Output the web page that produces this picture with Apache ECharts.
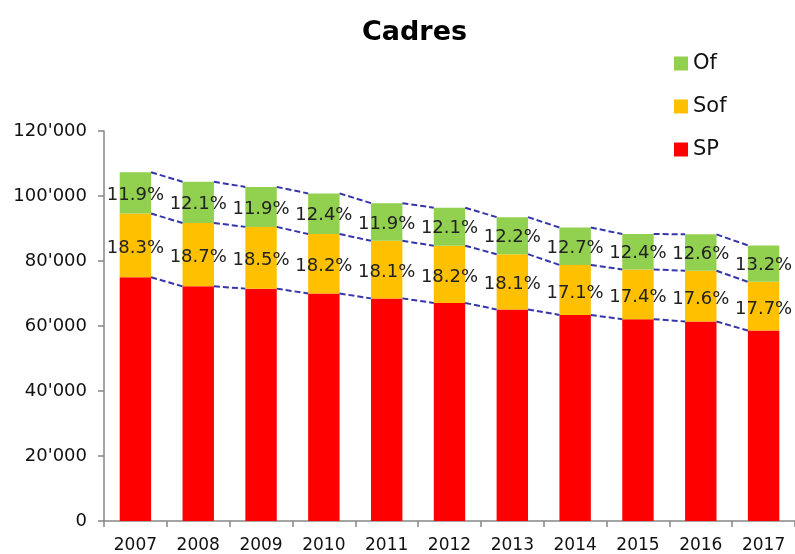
<!DOCTYPE html>
<html>
<head>
<meta charset="utf-8">
<script src="https://cdn.jsdelivr.net/npm/echarts@6/dist/echarts.min.js"></script>
<style>html,body{margin:0;padding:0;background:#fff;}#c{width:795px;height:554px;}</style>
</head>
<body>
<div id="c"></div>
<script>
const years = ['2007','2008','2009','2010','2011','2012','2013','2014','2015','2016','2017'];
const spValues  = [75000, 72200, 71500, 70000, 68500, 67100, 65100, 63400, 62100, 61400, 58600];
const sofValues = [19600, 19500, 19000, 18300, 17700, 17600, 17000, 15400, 15300, 15600, 15000];
const ofValues  = [12700, 12700, 12300, 12500, 11600, 11700, 11400, 11500, 10900, 11200, 11200];
const ofPct  = ['11.9%','12.1%','11.9%','12.4%','11.9%','12.1%','12.2%','12.7%','12.4%','12.6%','13.2%'];
const sofPct = ['18.3%','18.7%','18.5%','18.2%','18.1%','18.2%','18.1%','17.1%','17.4%','17.6%','17.7%'];
const yTicks = {min: 0, max: 120000, interval: 20000};

const FONT = 'DejaVu Sans';
const sofTop = spValues.map((v, i) => v + sofValues[i]);
const totTop = sofTop.map((v, i) => v + ofValues[i]);
const connData = [];
for (let i = 0; i < years.length - 1; i++) {
  connData.push([i, spValues[i], sofTop[i], totTop[i], spValues[i+1], sofTop[i+1], totTop[i+1]]);
}
function fmt(v){ return String(v).replace(/\B(?=(\d{3})+(?!\d))/g, "'"); }

const chart = echarts.init(document.getElementById('c'), null, {renderer: 'canvas'});
chart.setOption({
  animation: false,
  backgroundColor: '#fff',
  title: {
    text: 'Cadres', left: 357, top: 14,
    textStyle: {fontFamily: FONT, fontWeight: 'bold', fontSize: 27, color: '#000'}
  },
  legend: {
    orient: 'vertical', left: 669, top: 48,
    data: ['Of', 'Sof', 'SP'],
    itemWidth: 14, itemHeight: 14, itemGap: 22,
    icon: 'rect',
    textStyle: {fontFamily: FONT, fontSize: 21, color: '#111'}
  },
  grid: {left: 104, top: 131, width: 698.5, bottom: 33, containLabel: false},
  xAxis: {
    type: 'category', data: years,
    axisLine: {lineStyle: {color: '#868686', width: 1.5}},
    axisTick: {show: true, length: 6, alignWithLabel: false, lineStyle: {color: '#868686', width: 1.5}},
    axisLabel: {fontFamily: FONT, fontSize: 17, color: '#111', margin: 16, interval: 0}
  },
  yAxis: {
    type: 'value', min: yTicks.min, max: yTicks.max, interval: yTicks.interval,
    splitLine: {show: false},
    axisLine: {show: true, lineStyle: {color: '#868686', width: 1.5}},
    axisTick: {show: true, length: 6, lineStyle: {color: '#868686', width: 1.5}},
    axisLabel: {fontFamily: FONT, fontSize: 18, color: '#111', margin: 17, formatter: fmt}
  },
  series: [
    {name: 'SP', type: 'bar', stack: 'tot', barWidth: '50%', data: spValues,
     itemStyle: {color: '#FF0000'}},
    {name: 'Sof', type: 'bar', stack: 'tot', data: sofValues,
     itemStyle: {color: '#FFC000'},
     label: {show: true, position: 'inside', formatter: p => sofPct[p.dataIndex],
             fontFamily: FONT, fontSize: 18, color: '#222', offset: [0, 3]}},
    {name: 'Of', type: 'bar', stack: 'tot', data: ofValues,
     itemStyle: {color: '#92D050'},
     label: {show: true, position: 'inside', formatter: p => ofPct[p.dataIndex],
             fontFamily: FONT, fontSize: 18, color: '#222', offset: [0, 2]}},
    {name: 'conn', type: 'custom', silent: true, z: 5,
     data: connData,
     encode: {x: 0, y: [1,2,3,4,5,6]},
     renderItem: function (params, api) {
       const i = api.value(0);
       const half = api.size([1, 0])[0] * 0.25;
       const children = [];
       for (let k = 0; k < 3; k++) {
         const p1 = api.coord([i, api.value(1 + k)]);
         const p2 = api.coord([i + 1, api.value(4 + k)]);
         children.push({
           type: 'line',
           shape: {x1: p1[0] + half, y1: p1[1], x2: p2[0] - half, y2: p2[1]},
           style: {stroke: '#3535ac', lineWidth: 2, lineDash: [6, 3], fill: null}
         });
       }
       return {type: 'group', children: children};
     }}
  ]
});
</script>
</body>
</html>
